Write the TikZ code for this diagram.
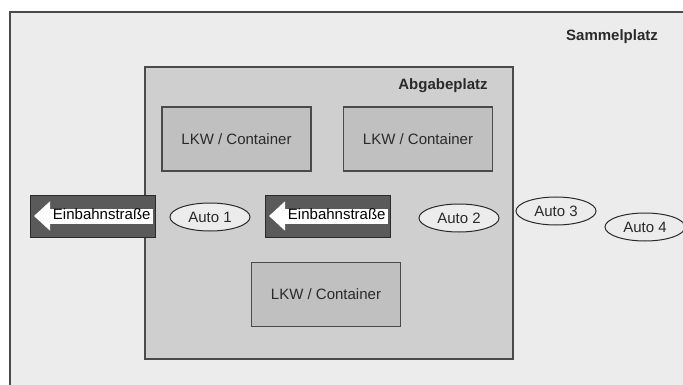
\documentclass[tikz,border=0pt]{standalone}
\usepackage{fontspec}
\setmainfont{Liberation Sans}
\usetikzlibrary{shapes.geometric}
\definecolor{platzgrau}{HTML}{EBECEB}
\definecolor{abgabegrau}{HTML}{CFCFD0}
\definecolor{lkwgrau}{HTML}{C0C0C0}
\definecolor{schildgrau}{HTML}{5A5A5A}
\definecolor{randgrau}{HTML}{4A4A4A}
\definecolor{pkwfill}{HTML}{ECECEC}
\definecolor{textgrau}{HTML}{2A2A2A}

\begin{document}
\begin{tikzpicture}[x=1pt, y=-1pt,
	every node/.style={text=textgrau, font=\fontsize{15}{18}\selectfont},
	rand/.style={draw=randgrau, line width=1.2pt},
	titel/.style={font=\fontsize{15}{18}\selectfont\bfseries},
	lkw/.style={rand, fill=lkwgrau, minimum width=149pt, minimum height=64pt, inner sep=0pt},
	schild/.style={draw=textgrau, line width=1pt, fill=schildgrau, minimum width=125pt, minimum height=42pt, inner sep=0pt},
	pfeil/.style={fill=white, inner xsep=2.75pt, inner ysep=0.75pt, text height=10.5pt, text depth=3pt, text=black},
	pkw/.style={ellipse, draw=textgrau, line width=1pt, fill=pkwfill, minimum width=80pt, minimum height=28pt, inner sep=0pt}]
	\useasboundingbox (0,0) rectangle (683,385);
	\clip (0,0) rectangle (683,385);
	% Sammelplatz
	\draw[rand, fill=platzgrau] (10,12) rectangle (720,420);
	\node[titel] (sammel) at (612,37) {Sammelplatz};
	% Abgabeplatz
	\node[rand, fill=abgabegrau, minimum width=368pt, minimum height=292pt, inner sep=0pt] (abgabe) at (329,213) {};
	\node[titel] (abgabetext) at (443,86) {Abgabeplatz};
	\node[lkw] (lkw1) at (236.5,139) {LKW / Container};
	\node[lkw] (lkw2) at (418,139) {LKW / Container};
	\node[lkw] (lkw3) at (326,294.5) {LKW / Container};
	% Einbahnstrassen
	\node[schild] (schild1) at (92.5,216) {};
	\node[pfeil, anchor=east] (pfeil1) at ([xshift=-2pt]schild1.east) {Einbahnstraße};
	\fill[white] ([yshift=7pt]pfeil1.north west) -- ([xshift=-16pt]pfeil1.west) -- ([yshift=-7pt]pfeil1.south west) -- cycle;
	\node[schild] (schild2) at (327.5,216) {};
	\node[pfeil, anchor=east] (pfeil2) at ([xshift=-2pt]schild2.east) {Einbahnstraße};
	\fill[white] ([yshift=7pt]pfeil2.north west) -- ([xshift=-16pt]pfeil2.west) -- ([yshift=-7pt]pfeil2.south west) -- cycle;
	% Autos
	\node[pkw] (auto1) at (210,217) {Auto 1};
	\node[pkw] (auto2) at (459,218) {Auto 2};
	\node[pkw] (auto3) at (556,211) {Auto 3};
	\node[pkw] (auto4) at (645,227) {Auto 4};
\end{tikzpicture}
\end{document}
